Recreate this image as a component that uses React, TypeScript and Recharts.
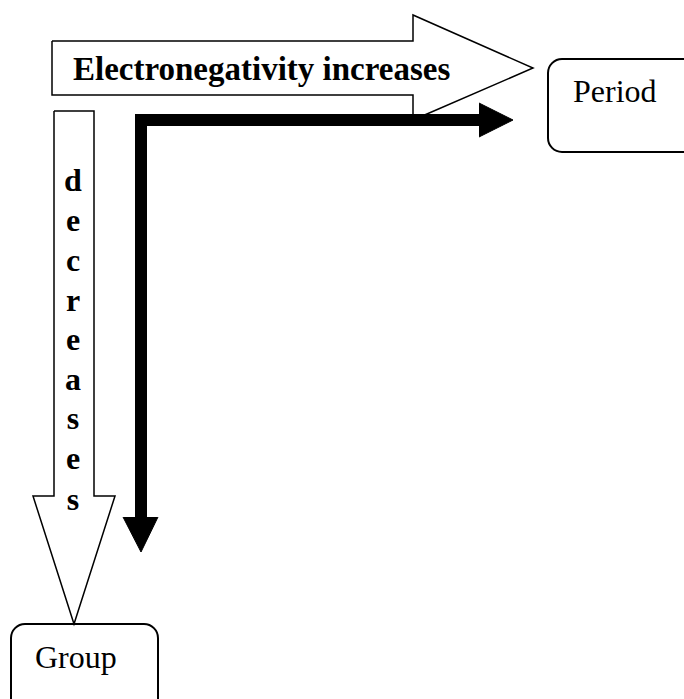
import React from 'react';
import { ComposedChart, Scatter, XAxis, YAxis, ReferenceArea } from 'recharts';

const W = 684;
const H = 699;

// hollow arrow pointing right, across the top
const periodArrow = [
  { x: 52, y: 41 }, { x: 413, y: 41 }, { x: 413, y: 15 }, { x: 533, y: 68 },
  { x: 413, y: 120 }, { x: 413, y: 95 }, { x: 52, y: 95 }, { x: 52, y: 41 },
];
// hollow arrow pointing down, on the left
const groupArrow = [
  { x: 54, y: 111 }, { x: 94, y: 111 }, { x: 94, y: 496 }, { x: 115, y: 496 },
  { x: 74, y: 624 }, { x: 33, y: 496 }, { x: 54, y: 496 }, { x: 54, y: 111 },
];
// thick black L
const bentLine = [{ x: 141, y: 517 }, { x: 141, y: 120 }, { x: 479, y: 120 }];
const rightHead = [{ x: 479, y: 103 }, { x: 513, y: 120 }, { x: 479, y: 137 }];
const downHead = [{ x: 123, y: 517 }, { x: 141, y: 552 }, { x: 158, y: 517 }];

const headline = [{ x: 73, y: 80, text: 'Electronegativity increases' }];
const letters = ['d', 'e', 'c', 'r', 'e', 'a', 's', 'e', 's'];
const letterY = [191, 231, 271, 311, 350, 390, 429, 469, 510];
const letterData = letters.map((t, i) => ({ x: 73, y: letterY[i], text: t }));

const boxes = [
  { name: 'Period', x1: 548, x2: 720, y1: 59, y2: 152 },
  { name: 'Group', x1: 11, x2: 158, y1: 624, y2: 740 },
];
const boxLabels = [
  { x: 573, y: 102, text: 'Period' },
  { x: 35, y: 668, text: 'Group' },
];

const FONT = '"Liberation Serif", "Times New Roman", serif';
const noDot = () => <g />;

function makeText(bold: boolean, anchor: 'start' | 'middle', size: number) {
  return (p: any) => (
    <text x={p.cx} y={p.cy} textAnchor={anchor} fontFamily={FONT} fontSize={size}
      fontWeight={bold ? 700 : 400} fill="#000">
      {p.payload.text}
    </text>
  );
}

function RoundBox(p: any) {
  return <rect x={p.x} y={p.y} width={p.width} height={p.height} rx={14} ry={14}
    fill="#fff" stroke="#000" strokeWidth={2} />;
}

export default function App() {
  return (
    <div style={{ width: W, height: H, background: '#fff' }}>
      <style>{'body{margin:0}'}</style>
      <ComposedChart width={W} height={H} margin={{ top: 0, right: 0, bottom: 0, left: 0 }}>
        <XAxis type="number" dataKey="x" domain={[0, W]} hide allowDataOverflow />
        <YAxis type="number" dataKey="y" domain={[0, H]} reversed hide allowDataOverflow />
        {boxes.map(b => (
          <ReferenceArea key={b.name} x1={b.x1} x2={b.x2} y1={b.y1} y2={b.y2}
            ifOverflow="visible" shape={RoundBox} />
        ))}
        <Scatter data={periodArrow} shape={noDot} isAnimationActive={false}
          line={{ stroke: '#000', strokeWidth: 1.5, fill: '#fff' }} />
        <Scatter data={groupArrow} shape={noDot} isAnimationActive={false}
          line={{ stroke: '#000', strokeWidth: 1.5, fill: '#fff' }} />
        <Scatter data={bentLine} shape={noDot} isAnimationActive={false}
          line={{ stroke: '#000', strokeWidth: 12, fill: 'none', strokeLinejoin: 'miter' }} />
        <Scatter data={rightHead} shape={noDot} isAnimationActive={false}
          line={{ stroke: '#000', strokeWidth: 1, fill: '#000' }} />
        <Scatter data={downHead} shape={noDot} isAnimationActive={false}
          line={{ stroke: '#000', strokeWidth: 1, fill: '#000' }} />
        <Scatter data={headline} shape={makeText(true, 'start', 33)} isAnimationActive={false} />
        <Scatter data={letterData} shape={makeText(true, 'middle', 32)} isAnimationActive={false} />
        <Scatter data={boxLabels} shape={makeText(false, 'start', 32)} isAnimationActive={false} />
      </ComposedChart>
    </div>
  );
}
